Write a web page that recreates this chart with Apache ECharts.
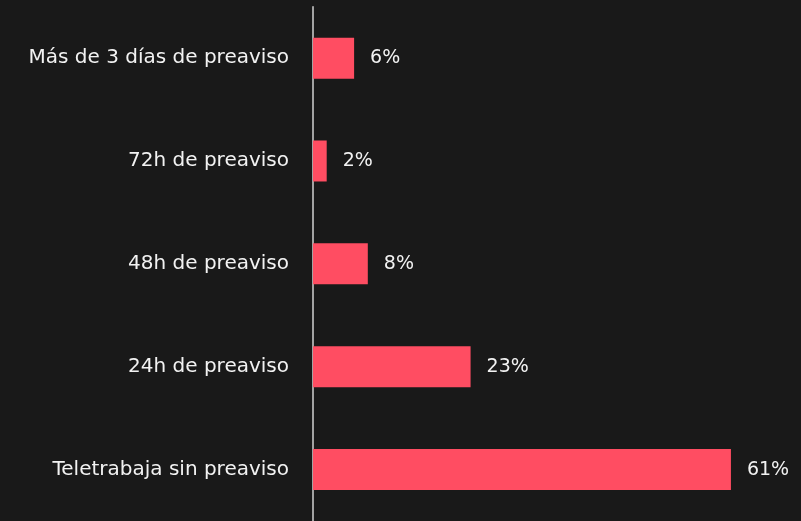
<!DOCTYPE html>
<html>
<head>
<meta charset="utf-8">
<script src="https://cdn.jsdelivr.net/npm/echarts@6/dist/echarts.min.js"></script>
<style>
html,body{margin:0;padding:0;background:#191919;}
#chart{width:801px;height:521px;}
</style>
</head>
<body>
<div id="chart"></div>
<script>
const categories = ["Teletrabaja sin preaviso", "24h de preaviso", "48h de preaviso", "72h de preaviso", "Más de 3 días de preaviso"];
const values = [61, 23, 8, 2, 6];

const chart = echarts.init(document.getElementById('chart'), null, {renderer: 'canvas'});
chart.setOption({
  backgroundColor: '#191919',
  animation: false,
  grid: {left: 313, top: 6.7, width: 479.6, height: 517.3, containLabel: false},
  xAxis: {
    type: 'value', min: 0, max: 70,
    show: false
  },
  yAxis: {
    type: 'category',
    data: categories,
    axisLine: {show: true, lineStyle: {color: '#d0d0d0', width: 1.5}},
    axisTick: {show: false},
    axisLabel: {color: '#f2f2f2', fontSize: 20, fontFamily: 'DejaVu Sans', margin: 24}
  },
  series: [{
    type: 'bar',
    data: values,
    barWidth: 41,
    itemStyle: {color: '#ff4d62'},
    label: {
      show: true, position: 'right', distance: 16,
      formatter: '{c}%', color: '#f2f2f2', fontSize: 19, fontFamily: 'DejaVu Sans'
    }
  }]
});
</script>
</body>
</html>
